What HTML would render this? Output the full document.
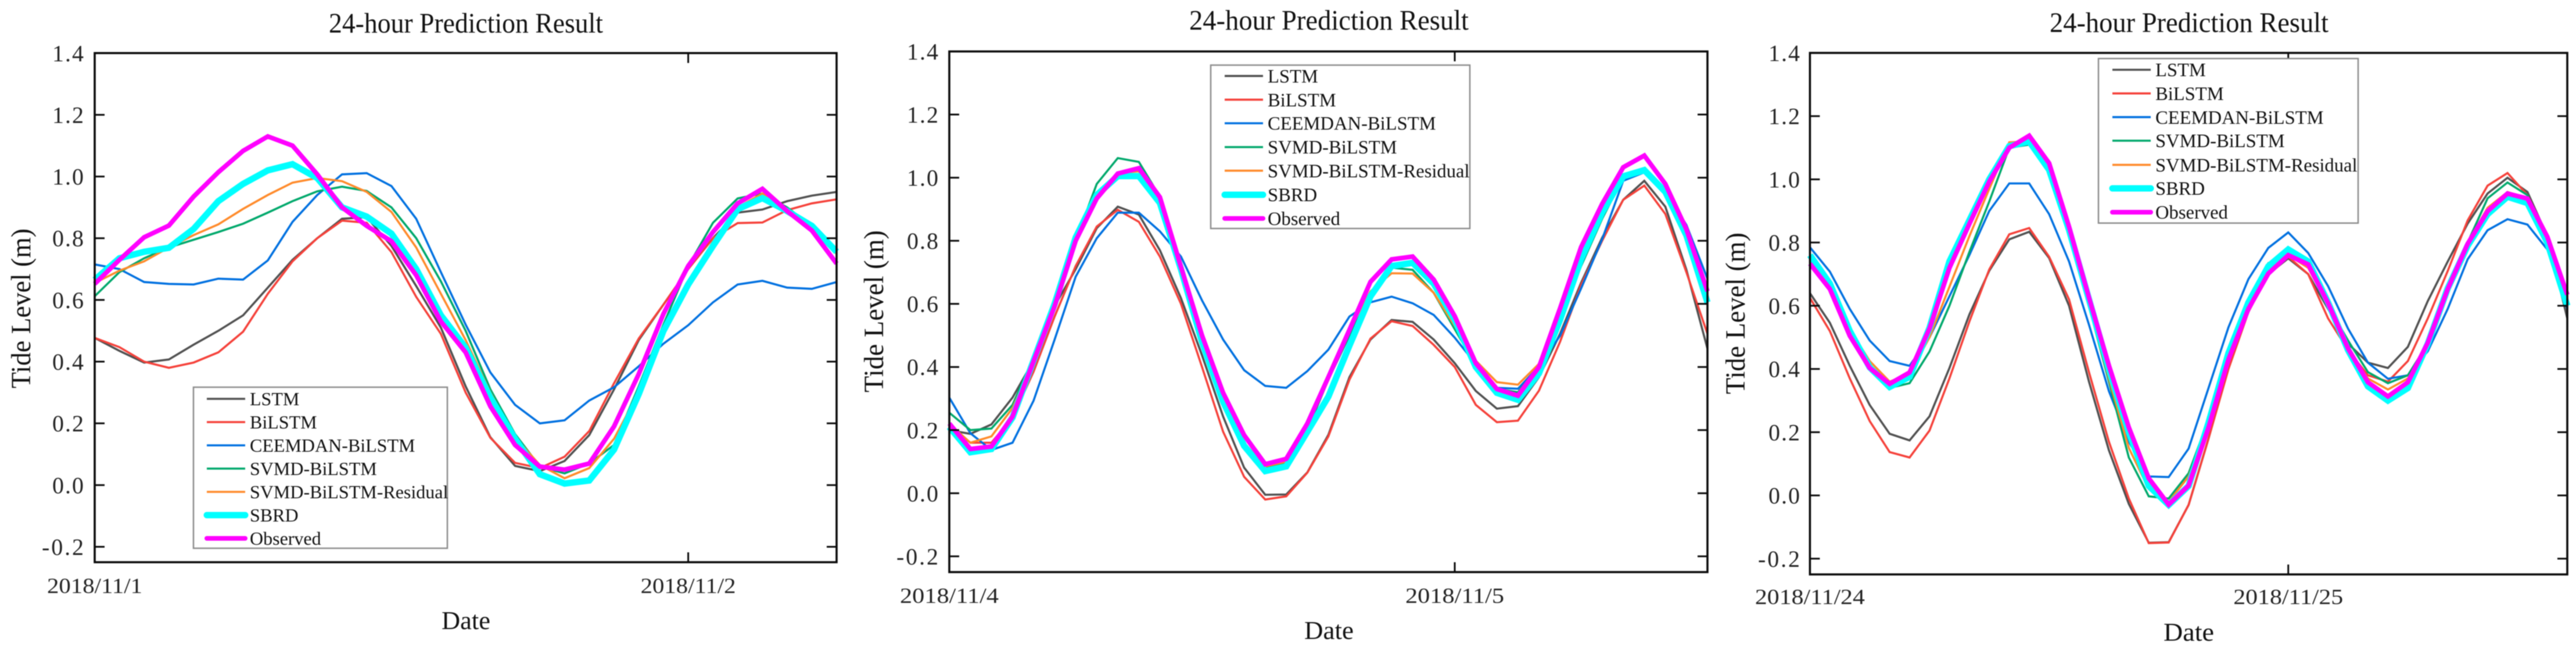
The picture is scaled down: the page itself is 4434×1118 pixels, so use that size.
<!DOCTYPE html>
<html lang="en">
<head>
<meta charset="utf-8">
<title>24-hour Prediction Result</title>
<style>
html,body{margin:0;padding:0;background:#fff;width:4434px;height:1118px;overflow:hidden}
svg{display:block;filter:blur(0.7px)}
text{font-family:"Liberation Serif",serif;fill:#111}
.title{font-size:49px}
.axt{font-size:44px}
.ytl{font-size:48px}
.leg{font-size:32px}
</style>
</head>
<body>
<svg id="chart" xmlns="http://www.w3.org/2000/svg" width="4434" height="1118" viewBox="0 0 4434 1118">
  <rect x="0" y="0" width="4434" height="1118" fill="#fff"/>

  <g>
    <text class="title" x="566" y="56" textLength="472" lengthAdjust="spacingAndGlyphs">24-hour Prediction Result</text>
    <g id="plot-1"></g>
    <text class="axt" x="760" y="1082" textLength="84" lengthAdjust="spacingAndGlyphs">Date</text>
    <text class="ytl" transform="translate(52,668) rotate(-90)" x="0" y="0" textLength="275" lengthAdjust="spacingAndGlyphs">Tide Level (m)</text>
    <g>
      <rect x="333" y="666" width="437" height="277" fill="#fff" stroke="#8c8c8c" stroke-width="2.5"/>
      <line x1="356" x2="422" y1="686" y2="686" stroke="#505050" stroke-width="3.6"/>
      <text class="leg" x="430" y="697">LSTM</text>
      <line x1="356" x2="422" y1="726" y2="726" stroke="#f5413a" stroke-width="3.6"/>
      <text class="leg" x="430" y="737">BiLSTM</text>
      <line x1="356" x2="422" y1="766" y2="766" stroke="#0070e0" stroke-width="3.6"/>
      <text class="leg" x="430" y="777">CEEMDAN-BiLSTM</text>
      <line x1="356" x2="422" y1="806" y2="806" stroke="#00a86b" stroke-width="3.6"/>
      <text class="leg" x="430" y="817">SVMD-BiLSTM</text>
      <line x1="356" x2="422" y1="846" y2="846" stroke="#ff8a2a" stroke-width="3.6"/>
      <text class="leg" x="430" y="857">SVMD-BiLSTM-Residual</text>
      <line x1="356" x2="422" y1="886" y2="886" stroke="#00ffff" stroke-width="11" stroke-linecap="round"/>
      <text class="leg" x="430" y="897">SBRD</text>
      <line x1="356" x2="422" y1="926" y2="926" stroke="#ff00ff" stroke-width="8" stroke-linecap="round"/>
      <text class="leg" x="430" y="937">Observed</text>
    </g>
  </g>

  <g>
    <text class="title" x="2047" y="51" textLength="481" lengthAdjust="spacingAndGlyphs">24-hour Prediction Result</text>
    <g id="plot-2"></g>
    <text class="axt" x="2245" y="1099" textLength="85" lengthAdjust="spacingAndGlyphs">Date</text>
    <text class="ytl" transform="translate(1520,675) rotate(-90)" x="0" y="0" textLength="279" lengthAdjust="spacingAndGlyphs">Tide Level (m)</text>
    <g>
      <rect x="2084" y="112" width="446" height="281" fill="#fff" stroke="#8c8c8c" stroke-width="2.5"/>
      <line x1="2108" x2="2174" y1="130.7" y2="130.7" stroke="#505050" stroke-width="3.6"/>
      <text class="leg" x="2182" y="142" style="font-size:32.6px">LSTM</text>
      <line x1="2108" x2="2174" y1="171.4" y2="171.4" stroke="#f5413a" stroke-width="3.6"/>
      <text class="leg" x="2182" y="183" style="font-size:32.6px">BiLSTM</text>
      <line x1="2108" x2="2174" y1="212" y2="212" stroke="#0070e0" stroke-width="3.6"/>
      <text class="leg" x="2182" y="223" style="font-size:32.6px">CEEMDAN-BiLSTM</text>
      <line x1="2108" x2="2174" y1="253" y2="253" stroke="#00a86b" stroke-width="3.6"/>
      <text class="leg" x="2182" y="264" style="font-size:32.6px">SVMD-BiLSTM</text>
      <line x1="2108" x2="2174" y1="293.6" y2="293.6" stroke="#ff8a2a" stroke-width="3.6"/>
      <text class="leg" x="2182" y="305" style="font-size:32.6px">SVMD-BiLSTM-Residual</text>
      <line x1="2108" x2="2174" y1="335" y2="335" stroke="#00ffff" stroke-width="11" stroke-linecap="round"/>
      <text class="leg" x="2182" y="346" style="font-size:32.6px">SBRD</text>
      <line x1="2108" x2="2174" y1="375.7" y2="375.7" stroke="#ff00ff" stroke-width="8" stroke-linecap="round"/>
      <text class="leg" x="2182" y="387" style="font-size:32.6px">Observed</text>
    </g>
  </g>

  <g>
    <text class="title" x="3528" y="55" textLength="480" lengthAdjust="spacingAndGlyphs">24-hour Prediction Result</text>
    <g id="plot-3"></g>
    <text class="axt" x="3724" y="1102" textLength="87" lengthAdjust="spacingAndGlyphs">Date</text>
    <text class="ytl" transform="translate(3003,678) rotate(-90)" x="0" y="0" textLength="278" lengthAdjust="spacingAndGlyphs">Tide Level (m)</text>
    <g>
      <rect x="3612" y="100.7" width="447" height="283" fill="#fff" stroke="#8c8c8c" stroke-width="2.5"/>
      <line x1="3636" x2="3702" y1="120" y2="120" stroke="#505050" stroke-width="3.6"/>
      <text class="leg" x="3710" y="131" style="font-size:32.6px">LSTM</text>
      <line x1="3636" x2="3702" y1="160.7" y2="160.7" stroke="#f5413a" stroke-width="3.6"/>
      <text class="leg" x="3710" y="172" style="font-size:32.6px">BiLSTM</text>
      <line x1="3636" x2="3702" y1="201.4" y2="201.4" stroke="#0070e0" stroke-width="3.6"/>
      <text class="leg" x="3710" y="213" style="font-size:32.6px">CEEMDAN-BiLSTM</text>
      <line x1="3636" x2="3702" y1="242" y2="242" stroke="#00a86b" stroke-width="3.6"/>
      <text class="leg" x="3710" y="253" style="font-size:32.6px">SVMD-BiLSTM</text>
      <line x1="3636" x2="3702" y1="283.6" y2="283.6" stroke="#ff8a2a" stroke-width="3.6"/>
      <text class="leg" x="3710" y="295" style="font-size:32.6px">SVMD-BiLSTM-Residual</text>
      <line x1="3636" x2="3702" y1="324" y2="324" stroke="#00ffff" stroke-width="11" stroke-linecap="round"/>
      <text class="leg" x="3710" y="335" style="font-size:32.6px">SBRD</text>
      <line x1="3636" x2="3702" y1="365" y2="365" stroke="#ff00ff" stroke-width="8" stroke-linecap="round"/>
      <text class="leg" x="3710" y="376" style="font-size:32.6px">Observed</text>
    </g>
  </g>
</svg>

<script>
// Shared axis data
const yTickValues = [-0.2, 0, 0.2, 0.4, 0.6, 0.8, 1.0, 1.2, 1.4];
const yTickLabels = ['-0.2', '0.0', '0.2', '0.4', '0.6', '0.8', '1.0', '1.2', '1.4'];
const seriesNames = ['lstm', 'bilstm', 'ceemdan', 'svmd', 'residual', 'sbrd', 'observed'];

// Panel 1: 2018/11/1
const p1XTickLabels = ['2018/11/1', '2018/11/2'];
const p1XTickHours = [0, 24];
const p1Lstm = [.477,.435,.397,.407,.455,.50,.55,.64,.73,.80,.863,.868,.775,.645,.51,.32,.155,.062,.045,.078,.162,.31,.47,.585,.70,.80,.883,.893,.92,.938,.95];
const p1Bilstm = [.477,.447,.40,.38,.397,.43,.497,.62,.725,.80,.857,.85,.755,.61,.49,.30,.153,.072,.055,.092,.175,.33,.475,.585,.70,.80,.849,.851,.891,.913,.926];
const p1Ceemdan = [.715,.70,.658,.652,.65,.669,.666,.728,.853,.94,1.007,1.011,.969,.863,.69,.52,.365,.26,.20,.21,.274,.317,.385,.458,.518,.592,.65,.662,.64,.636,.658];
const p1Svmd = [.612,.69,.735,.77,.795,.82,.847,.883,.92,.952,.967,.953,.90,.80,.66,.50,.31,.165,.06,.038,.07,.13,.32,.52,.71,.85,.929,.945,.90,.84,.75];
const p1Residual = [.655,.695,.725,.77,.81,.845,.895,.94,.98,.995,.985,.95,.885,.77,.62,.47,.30,.155,.065,.022,.055,.15,.30,.50,.65,.79,.90,.945,.89,.84,.75];
const p1Sbrd = [.665,.735,.756,.769,.83,.92,.976,1.02,1.04,.995,.90,.87,.815,.70,.55,.445,.283,.15,.035,.005,.015,.115,.295,.50,.65,.775,.894,.93,.888,.84,.756];
const p1Observed = [.652,.73,.803,.841,.935,1.014,1.083,1.13,1.10,1.007,.90,.84,.79,.68,.53,.43,.255,.13,.06,.05,.07,.19,.36,.555,.71,.82,.913,.96,.888,.825,.718];

// Panel 2: 2018/11/4
const p2XTickLabels = ['2018/11/4', '2018/11/5'];
const p2XTickHours = [0, 24];
const p2Lstm = [.20,.188,.218,.303,.42,.593,.71,.84,.908,.883,.77,.618,.437,.243,.081,-.005,-.004,.066,.185,.368,.487,.549,.543,.487,.412,.324,.268,.276,.368,.505,.667,.81,.93,.99,.908,.708,.458];
const p2Bilstm = [.215,.16,.16,.24,.385,.56,.72,.845,.898,.86,.75,.60,.40,.195,.052,-.02,-.01,.065,.18,.36,.49,.545,.53,.47,.40,.28,.225,.23,.325,.48,.66,.80,.93,.975,.885,.70,.505];
const p2Ceemdan = [.303,.19,.137,.16,.293,.487,.686,.808,.889,.889,.83,.75,.611,.487,.39,.34,.334,.387,.455,.56,.605,.623,.602,.565,.493,.409,.334,.331,.402,.499,.649,.805,.99,1.017,.958,.85,.68];
const p2Svmd = [.255,.20,.205,.28,.43,.62,.80,.98,1.062,1.05,.94,.73,.50,.30,.16,.083,.095,.20,.36,.50,.63,.715,.708,.635,.52,.405,.33,.32,.40,.55,.72,.87,1.0,1.02,.95,.81,.60];
const p2Residual = [.22,.16,.18,.27,.42,.61,.80,.94,1.015,1.02,.93,.72,.49,.30,.16,.085,.10,.21,.37,.52,.64,.697,.696,.635,.53,.42,.352,.344,.41,.57,.76,.90,1.0,1.02,.95,.82,.62];
const p2Sbrd = [.21,.13,.14,.24,.42,.60,.81,.945,1.005,1.005,.92,.71,.48,.29,.15,.07,.085,.195,.306,.468,.624,.72,.73,.664,.55,.40,.318,.296,.38,.55,.742,.89,1.004,1.024,.955,.817,.605];
const p2Observed = [.221,.14,.148,.243,.418,.593,.80,.934,1.013,1.03,.938,.717,.50,.318,.184,.092,.109,.221,.368,.518,.67,.741,.75,.677,.561,.412,.33,.309,.40,.586,.78,.917,1.033,1.07,.98,.836,.64];

// Panel 3: 2018/11/24
const p3XTickLabels = ['2018/11/24', '2018/11/25'];
const p3XTickHours = [0, 24];
const p3Lstm = [.64,.546,.41,.286,.195,.174,.25,.403,.572,.711,.81,.834,.751,.60,.36,.143,-.027,-.15,-.148,-.03,.18,.41,.59,.70,.75,.70,.59,.48,.42,.403,.47,.615,.74,.86,.955,1.005,.96,.82,.56];
const p3Bilstm = [.625,.52,.37,.235,.137,.12,.205,.37,.55,.715,.826,.846,.755,.62,.39,.17,-.01,-.151,-.149,-.03,.18,.40,.58,.70,.755,.70,.56,.46,.38,.36,.425,.56,.71,.87,.98,1.02,.95,.82,.60];
const p3Ceemdan = [.785,.708,.59,.49,.425,.41,.50,.63,.76,.90,.987,.987,.89,.74,.54,.33,.17,.06,.058,.148,.34,.532,.684,.783,.832,.767,.662,.528,.42,.369,.38,.456,.59,.747,.839,.874,.857,.778,.59];
const p3Svmd = [.755,.66,.52,.41,.34,.355,.455,.60,.77,.93,1.10,1.11,1.03,.83,.60,.36,.12,-.003,-.01,.07,.24,.46,.62,.735,.76,.73,.60,.49,.39,.355,.38,.48,.64,.80,.94,.99,.95,.80,.60];
const p3Residual = [.745,.655,.525,.425,.36,.385,.50,.66,.82,.97,1.117,1.12,1.03,.83,.60,.37,.15,.02,-.02,.06,.22,.44,.60,.72,.76,.72,.60,.46,.37,.335,.37,.47,.64,.80,.91,.96,.94,.81,.61];
const p3Sbrd = [.76,.67,.52,.405,.343,.375,.53,.74,.87,1.0,1.105,1.12,1.03,.84,.62,.40,.20,.03,-.03,.03,.23,.45,.61,.725,.778,.74,.61,.46,.345,.30,.34,.48,.655,.79,.89,.945,.925,.80,.60];
const p3Observed = [.733,.653,.505,.403,.353,.389,.528,.72,.859,.993,1.10,1.138,1.051,.85,.626,.411,.215,.054,-.029,.031,.215,.43,.59,.702,.76,.731,.608,.465,.358,.313,.358,.483,.653,.796,.899,.955,.939,.818,.635];

const NS = 'http://www.w3.org/2000/svg';

function seriesStyle(name) {
  if (name === 'lstm') return { color: '#505050', width: 3.6 };
  if (name === 'bilstm') return { color: '#f5413a', width: 3.6 };
  if (name === 'ceemdan') return { color: '#0070e0', width: 3.6 };
  if (name === 'svmd') return { color: '#00a86b', width: 3.6 };
  if (name === 'residual') return { color: '#ff8a2a', width: 3.6 };
  if (name === 'sbrd') return { color: '#00ffff', width: 11 };
  return { color: '#ff00ff', width: 8 };
}

function drawPanel(groupId, box, seriesList, xHours, xLabels, xLabelWidth, xLabelY, yLabelRight) {
  const group = document.getElementById(groupId);
  const lastHour = seriesList[0].length - 1;
  const xScale = function (h) { return box.left + (box.right - box.left) * h / lastHour; };
  const yScale = function (v) { return box.bottom - (box.bottom - box.top) * (v + 0.25) / 1.65; };

  // Series lines
  seriesList.forEach(function (values, s) {
    const style = seriesStyle(seriesNames[s]);
    const line = document.createElementNS(NS, 'polyline');
    
    
    line.setAttribute('points', values.map(function (v, i) { return xScale(i).toFixed(1) + ',' + yScale(v).toFixed(1); }).join(' '));
    line.setAttribute('fill', 'none');
    line.setAttribute('stroke', style.color);
    line.setAttribute('stroke-width', style.width);
    line.setAttribute('stroke-linejoin', 'miter');
    group.appendChild(line);
  });

  // Frame
  const frame = document.createElementNS(NS, 'rect');
  
  
  frame.setAttribute('x', box.left);
  frame.setAttribute('y', box.top);
  frame.setAttribute('width', box.right - box.left);
  frame.setAttribute('height', box.bottom - box.top);
  frame.setAttribute('fill', 'none');
  frame.setAttribute('stroke', '#0a0a0a');
  frame.setAttribute('stroke-width', '3.6');
  group.appendChild(frame);

  // Y ticks and labels
  yTickValues.forEach(function (v, i) {
    const y = yScale(v);
    [[box.left, box.left + 17], [box.right - 17, box.right]].forEach(function (ends) {
      const tick = document.createElementNS(NS, 'line');
      
      
      tick.setAttribute('x1', ends[0]);
      tick.setAttribute('x2', ends[1]);
      tick.setAttribute('y1', y);
      tick.setAttribute('y2', y);
      tick.setAttribute('stroke', '#0a0a0a');
      tick.setAttribute('stroke-width', '3');
      group.appendChild(tick);
    });
    const label = document.createElementNS(NS, 'text');
    
    
    label.setAttribute('x', yLabelRight);
    label.setAttribute('y', y + 14);
    label.setAttribute('text-anchor', 'end');
    label.setAttribute('font-size', '40');
    label.setAttribute('textLength', yTickLabels[i].length > 3 ? 72 : 54);
    label.setAttribute('lengthAdjust', 'spacing');
    label.style.fill = '#222';
    label.textContent = yTickLabels[i];
    group.appendChild(label);
  });

  // X ticks and labels
  xHours.forEach(function (h, i) {
    const x = xScale(h);
    if (h > 0) {
      [[box.top, box.top + 17], [box.bottom - 17, box.bottom]].forEach(function (ends) {
        const tick = document.createElementNS(NS, 'line');
        
        
        tick.setAttribute('x1', x);
        tick.setAttribute('x2', x);
        tick.setAttribute('y1', ends[0]);
        tick.setAttribute('y2', ends[1]);
        tick.setAttribute('stroke', '#0a0a0a');
        tick.setAttribute('stroke-width', '3');
        group.appendChild(tick);
      });
    }
    const label = document.createElementNS(NS, 'text');
    
    
    label.setAttribute('x', x - xLabelWidth / 2);
    label.setAttribute('y', xLabelY);
    label.setAttribute('font-size', '37');
    label.setAttribute('textLength', xLabelWidth);
    label.setAttribute('lengthAdjust', 'spacingAndGlyphs');
    label.style.fill = '#222';
    label.textContent = xLabels[i];
    group.appendChild(label);
  });
}

drawPanel('plot-1', { left: 163, right: 1440, top: 91.3, bottom: 967 },
  [p1Lstm, p1Bilstm, p1Ceemdan, p1Svmd, p1Residual, p1Sbrd, p1Observed],
  p1XTickHours, p1XTickLabels, 164, 1020, 144);
drawPanel('plot-2', { left: 1634, right: 2939, top: 88.5, bottom: 984 },
  [p2Lstm, p2Bilstm, p2Ceemdan, p2Svmd, p2Residual, p2Sbrd, p2Observed],
  p2XTickHours, p2XTickLabels, 170, 1037, 1615);
drawPanel('plot-3', { left: 3115.4, right: 4419, top: 91, bottom: 988 },
  [p3Lstm, p3Bilstm, p3Ceemdan, p3Svmd, p3Residual, p3Sbrd, p3Observed],
  p3XTickHours, p3XTickLabels, 189, 1039, 3098);
</script>
</body>
</html>
